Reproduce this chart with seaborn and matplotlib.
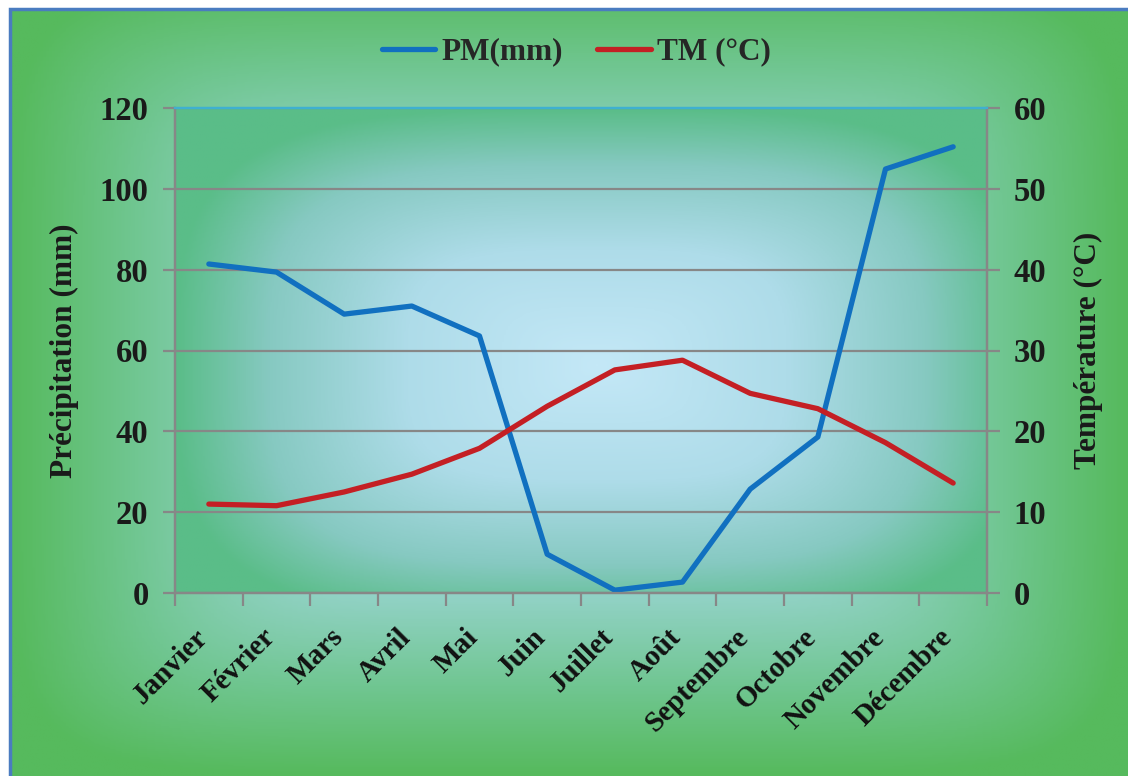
import matplotlib
matplotlib.use("Agg")
import matplotlib.pyplot as plt
import matplotlib.transforms as mtransforms
from matplotlib.colors import LinearSegmentedColormap
from matplotlib.patches import Rectangle
import seaborn as sns
import numpy as np
import pandas as pd

# Données climatiques mensuelles
mois = ["Janvier", "Février", "Mars", "Avril", "Mai", "Juin", "Juillet",
        "Août", "Septembre", "Octobre", "Novembre", "Décembre"]
pm_mm = [81.4, 79.4, 69.0, 71.0, 63.6, 9.6, 0.7, 2.7, 25.7, 38.6, 104.9, 110.4]
tm_c = [11.0, 10.8, 12.5, 14.7, 17.9, 23.1, 27.6, 28.8, 24.7, 22.8, 18.6, 13.6]

pm_ticks = [0, 20, 40, 60, 80, 100, 120]
tm_ticks = [0, 10, 20, 30, 40, 50, 60]

df = pd.DataFrame({"Mois": mois, "PM": pm_mm, "TM": tm_c})

sns.set_theme(style="white")
plt.rcParams["font.family"] = ["Liberation Serif", "DejaVu Serif"]
plt.rcParams["font.weight"] = "bold"


def gradient_image(cx, cy, p, stops, n=400):
    # dégradé "rectangle arrondi" depuis le centre
    u, v = np.meshgrid(np.linspace(0, 1, n), np.linspace(0, 1, n))
    du = np.abs(u - cx) / max(cx, 1 - cx)
    dv = np.abs(v - cy) / max(cy, 1 - cy)
    d = np.clip((du ** p + dv ** p) ** (1.0 / p), 0, 1)
    cmap = LinearSegmentedColormap.from_list("g", stops)
    return cmap(d)


W, H = 1128, 776
fig = plt.figure(figsize=(W / 100, H / 100), dpi=100, facecolor="white")

# fond vert de la figure
bg = fig.add_axes([10 / W, 0, 1 - 10 / W, 1 - 9 / H], zorder=-10)
bg_img = gradient_image(0.5, 0.52, 7, [(0.0, "#a9dcdc"), (0.55, "#92d2c6"),
                                       (0.78, "#70c691"), (1.0, "#56ba5d")])
bg.imshow(bg_img, extent=(0, 1, 0, 1), origin="lower", aspect="auto")
bg.set_xlim(0, 1)
bg.set_ylim(0, 1)
bg.axis("off")
fig.add_artist(Rectangle((10 / W, -0.01), 1.0, 1 - 9 / H + 0.01, transform=fig.transFigure,
                         fill=False, edgecolor="#4a7cc0", linewidth=2.5))

ax = fig.add_axes([175 / W, 1 - 593 / H, (987 - 175) / W, (593 - 108) / H])
ax.patch.set_visible(False)
plot_img = gradient_image(0.52, 0.47, 3.5, [(0.0, "#c4e8f7"), (0.45, "#aedce9"),
                                            (0.78, "#86c9c1"), (1.0, "#5abd88")])
ax.imshow(plot_img, extent=(0, 1, 0, 1), transform=ax.transAxes, origin="lower",
          aspect="auto", zorder=-1)

sns.lineplot(data=df, x="Mois", y="PM", ax=ax, color="#1170c0", linewidth=3.8,
             sort=False, label="PM(mm)", legend=False, zorder=3)
ax2 = ax.twinx()
sns.lineplot(data=df, x="Mois", y="TM", ax=ax2, color="#c41f24", linewidth=3.8,
             sort=False, label="TM (°C)", legend=False, zorder=3)

ax.set_xlim(-0.5, len(mois) - 0.5)
ax.set_ylim(0, 120)
ax2.set_ylim(0, 60)
ax.set_yticks(pm_ticks)
ax2.set_yticks(tm_ticks)
ax.yaxis.grid(True, color="#878787", linewidth=1.6)
ax.set_axisbelow(True)

# graduations de l'axe des catégories entre les mois
ax.set_xticks(np.arange(len(mois)))
ax.set_xticks(np.arange(-0.5, len(mois)), minor=True)
ax.tick_params(axis="x", which="major", length=0, pad=22)
ax.tick_params(axis="x", which="minor", length=9, width=1.6, color="#878787",
               direction="out", bottom=True)
ax.tick_params(axis="y", length=9, width=1.6, color="#878787", direction="out",
               left=True, labelsize=23.5, pad=10)
ax2.tick_params(axis="y", length=9, width=1.6, color="#878787", direction="out",
                right=True, labelsize=23.5, pad=10)
ax.set_xticklabels(mois, rotation=45, ha="right", rotation_mode="anchor",
                   fontsize=21, fontweight="bold", color="#111111")
shift = mtransforms.ScaledTranslation(-15 / 100, 0, fig.dpi_scale_trans)
for t in ax.get_xticklabels():
    t.set_transform(t.get_transform() + shift)
for t in ax.get_yticklabels() + ax2.get_yticklabels():
    t.set_fontweight("bold")
    t.set_color("#1a1a1a")

for a in (ax, ax2):
    for side in ("left", "right", "bottom"):
        a.spines[side].set_color("#878787")
        a.spines[side].set_linewidth(1.6)
    a.spines["top"].set_color("#3fb0d0")
    a.spines["top"].set_linewidth(1.6)

ax.set_xlabel("")
ax.set_ylabel("Précipitation (mm)", fontsize=22.5, fontweight="bold", color="#1a1a1a",
              labelpad=15)
ax2.set_ylabel("Température (°C)", fontsize=22.5, fontweight="bold", color="#1a1a1a",
               labelpad=20)

h1, l1 = ax.get_legend_handles_labels()
h2, l2 = ax2.get_legend_handles_labels()
fig.legend(h1 + h2, l1 + l2, loc="center", bbox_to_anchor=(0.511, 1 - 52 / H), ncol=2,
           frameon=False, prop={"family": "Liberation Serif", "weight": "bold", "size": 22.5},
           handlelength=1.7, columnspacing=1.1, handletextpad=0.2)

fig.savefig("out.png", dpi=100, facecolor="white")
